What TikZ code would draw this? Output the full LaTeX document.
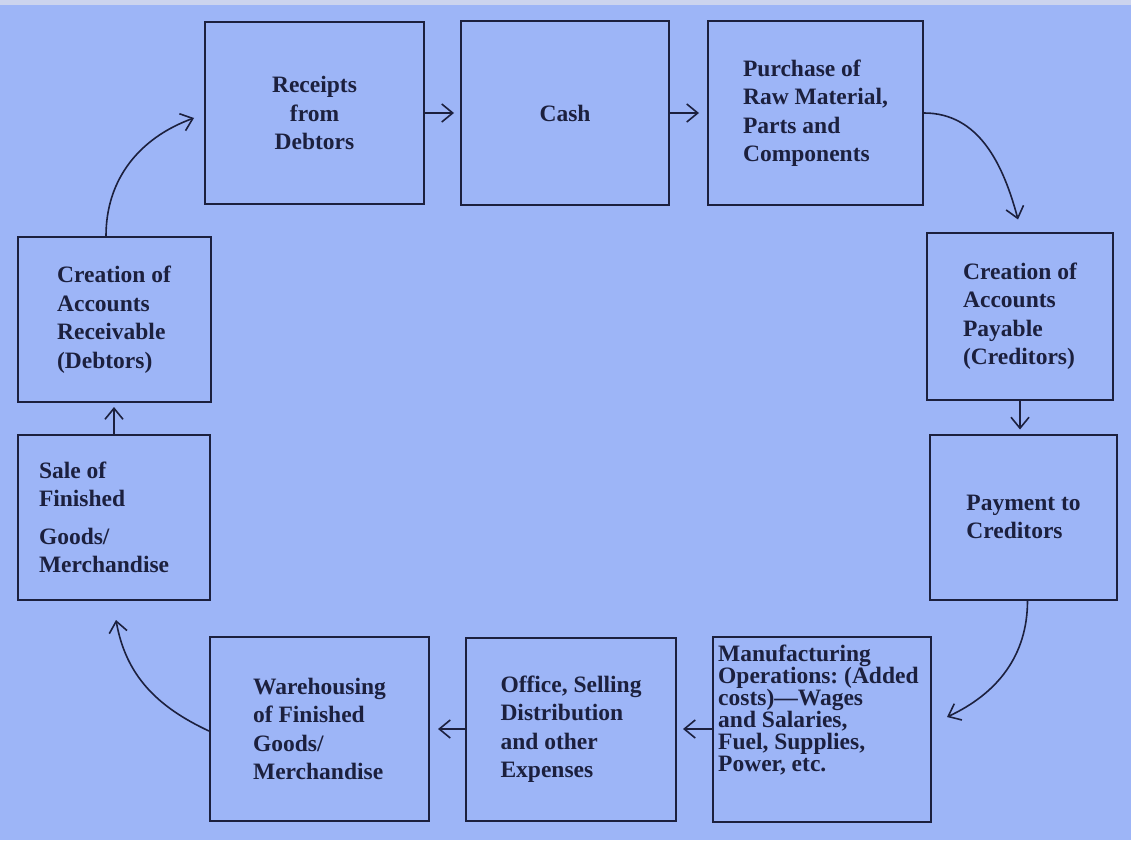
\documentclass[tikz,border=0pt]{standalone}
\usepackage{fontspec}
\setmainfont{Liberation Serif}
\usepackage{tikz}
\usetikzlibrary{shapes,arrows.meta,positioning}
\definecolor{sheet}{RGB}{157,181,247}
\definecolor{sheetedge}{RGB}{204,212,238}
\definecolor{ink}{RGB}{28,32,62}
\newcommand{\boxfont}{\fontsize{23.5}{28.5}\selectfont\bfseries\frenchspacing}
\newcommand{\tightfont}{\fontsize{23.5}{22}\selectfont\bfseries\frenchspacing}
\tikzstyle{block} = [rectangle, draw=ink, line width=2pt, text=ink, inner sep=0pt, align=center, font=\boxfont]
\tikzstyle{blockl} = [block, align=flush left]
\tikzstyle{line} = [draw=ink, line width=1.6pt, -{Straight Barb[length=11pt,width=18pt]}]

\begin{document}
\begin{tikzpicture}
    \fill [sheet] (0,0) rectangle (1131pt,-840pt);
    \fill [sheetedge] (0,0) rectangle (1131pt,-5pt);
    \node [block, minimum width=219pt, minimum height=182pt] (rec) at (314.5pt,-113pt) {Receipts\\from\\Debtors};
    \node [block, minimum width=208pt, minimum height=184pt, right=35pt of rec] (cash) {Cash};
    \node [blockl, minimum width=215pt, minimum height=183pt, right=37pt of cash] (purch) {Purchase of\\Raw Material,\\Parts and\\Components};
    \node [blockl, minimum width=186pt, minimum height=167pt, below right=26pt and 2pt of purch] (ap) {Creation of\\Accounts\\Payable\\(Creditors)};
    \node [blockl, minimum width=187pt, minimum height=165pt, below=33pt of ap, xshift=3.5pt] (pay) {Payment to\\Creditors};
    \node [block, minimum width=218pt, minimum height=185pt, below left=35pt and -3pt of pay] (manu) {};
    \node [align=flush left, text=ink, inner sep=0pt, font=\tightfont, below right=9pt and 6pt of manu.north west] (manutext) {Manufacturing\\Operations: (Added\\costs)---Wages\\and Salaries,\\Fuel, Supplies,\\Power, etc.};
    \node [blockl, minimum width=210pt, minimum height=183pt, left=35pt of manu] (office) {Office, Selling\\Distribution\\and other\\Expenses};
    \node [blockl, minimum width=219pt, minimum height=184pt, left=35pt of office] (ware) {Warehousing\\of Finished\\Goods/\\Merchandise};
    \node [blockl, text width=150pt, minimum width=192pt, minimum height=165pt, above left=35pt and -2pt of ware] (sale) {Sale of\\Finished\\[9pt]Goods/\\Merchandise};
    \node [blockl, minimum width=193pt, minimum height=165pt, above=31pt of sale] (ar) {Creation of\\Accounts\\Receivable\\(Debtors)};
    \path [line] ([xshift=-8pt]ar.north) to[out=90,in=200] ([xshift=-10pt,yshift=-5pt]rec.west);
    \path [line, shorten >=6pt] (rec.east) -- (rec.east -| cash.west);
    \path [line, shorten >=8pt] (cash.east) -- (cash.east -| purch.west);
    \path [line] (purch.east) to[out=0,in=105] ([xshift=-2pt,yshift=12pt]ap.north);
    \path [line, shorten >=4pt] (ap.south) -- (ap.south |- pay.north);
    \path [line] ([xshift=4pt]pay.south) to[out=270,in=25] ([xshift=15pt,yshift=12pt]manu.east);
    \path [line, shorten >=6pt] (manu.west) -- (manu.west -| office.east);
    \path [line, shorten >=8pt] (office.west) -- (office.west -| ware.east);
    \path [line] ([yshift=-2pt]ware.west) to[out=155,in=-80] ([xshift=2pt,yshift=-19pt]sale.south);
    \path [line, shorten >=4pt] (sale.north) -- (sale.north |- ar.south);
\end{tikzpicture}
\end{document}
